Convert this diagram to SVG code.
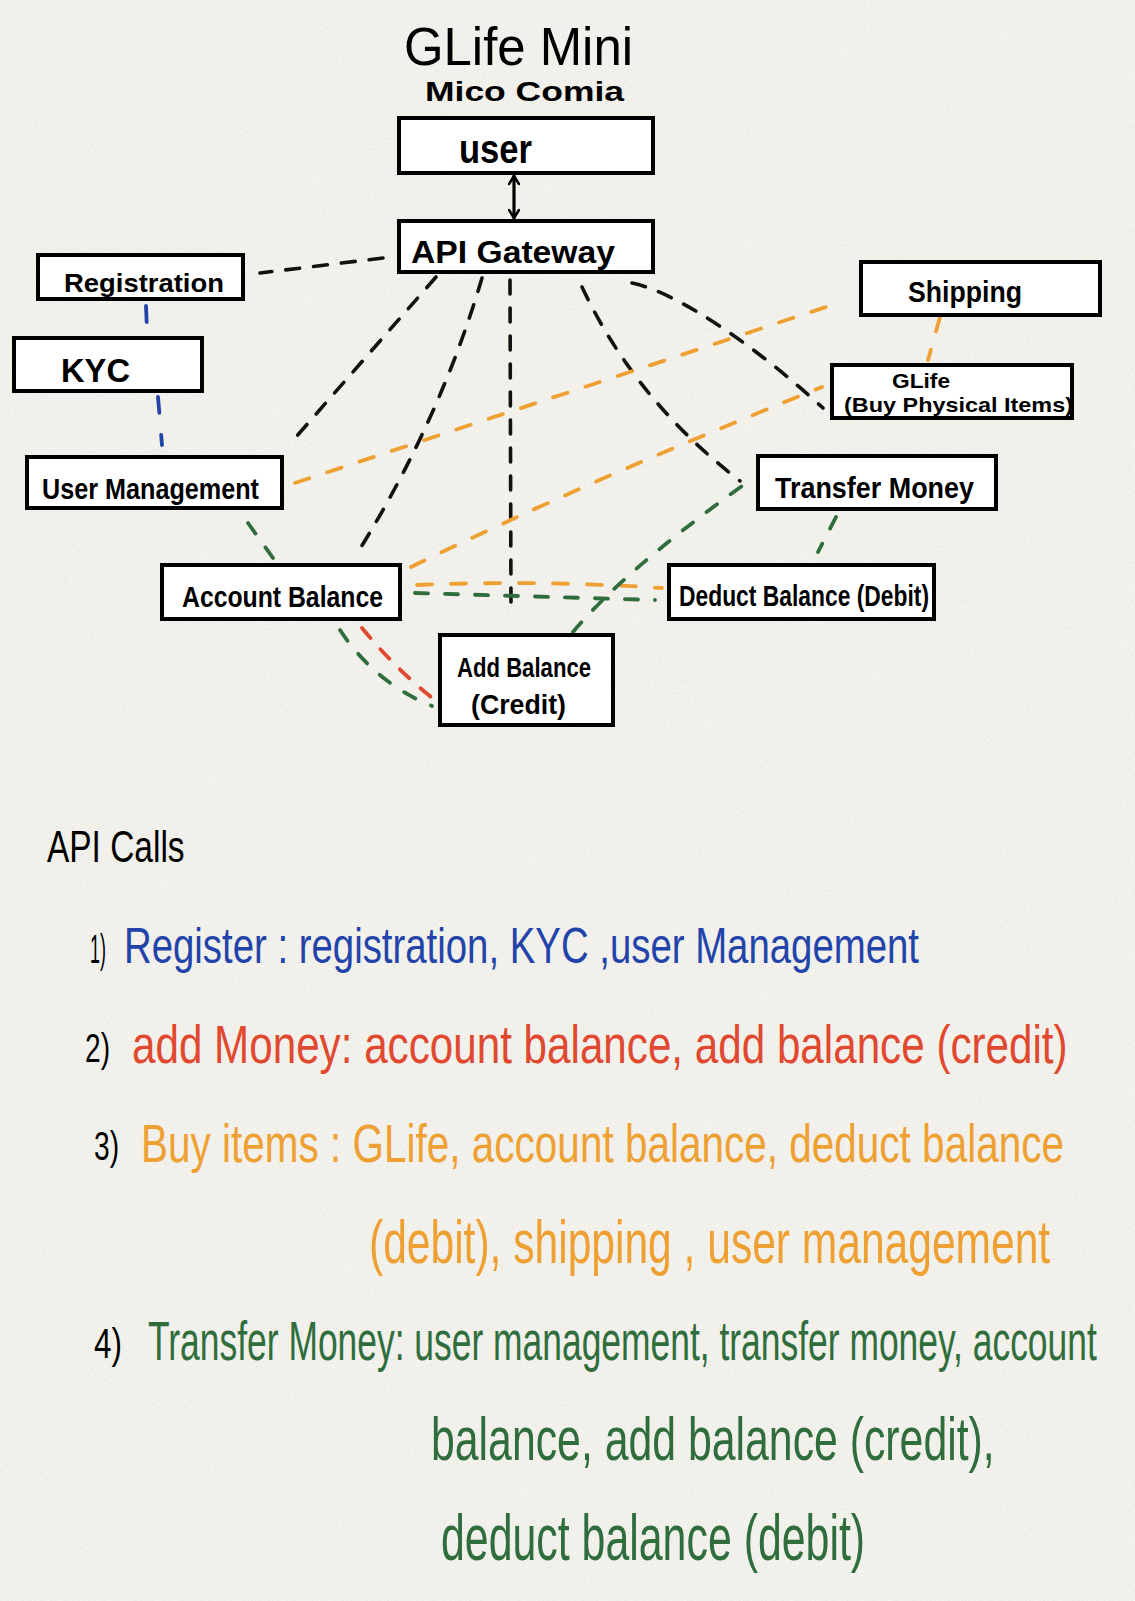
<svg xmlns="http://www.w3.org/2000/svg" width="1135" height="1601" viewBox="0 0 1135 1601">
<defs>
<style>
.box{fill:#fff;stroke:#000;stroke-width:4}
.lbl{font-family:"Liberation Sans","DejaVu Sans",sans-serif;font-weight:bold;fill:#000}
.hand{font-family:"Liberation Sans","DejaVu Sans",sans-serif;font-weight:normal}
.dk{fill:none;stroke:#111;stroke-width:3.6;stroke-linecap:round;stroke-dasharray:14 14}
.or{fill:none;stroke:#EFA032;stroke-width:3.8;stroke-linecap:round;stroke-dasharray:15 19}
.gr{fill:none;stroke:#2F6E3C;stroke-width:3.8;stroke-linecap:round;stroke-dasharray:13 17}
.rd{fill:none;stroke:#E0492F;stroke-width:3.8;stroke-linecap:round;stroke-dasharray:13 15}
.bl{fill:none;stroke:#2244AA;stroke-width:3.8;stroke-linecap:round;stroke-dasharray:16 22}
.blue{fill:#2244AA}.red{fill:#E0492F}.orange{fill:#EFA032}.green{fill:#2F6E3C}.black{fill:#000}
</style>
<marker id="chev" viewBox="0 0 12 12" refX="10" refY="6" markerWidth="12" markerHeight="12" markerUnits="userSpaceOnUse" orient="auto-start-reverse">
<path d="M2,1 L10,6 L2,11" fill="none" stroke="#000" stroke-width="2.6" stroke-linecap="round" stroke-linejoin="round"/>
</marker>
<filter id="paper" x="0" y="0" width="100%" height="100%">
<feTurbulence type="fractalNoise" baseFrequency="0.7" numOctaves="3" seed="4"/>
<feColorMatrix values="0 0 0 0 0.55 0 0 0 0 0.55 0 0 0 0 0.52 0 0 0 0.4 -0.12"/>
</filter>
</defs>
<rect width="1135" height="1601" fill="#F5F4EF"/>
<rect width="1135" height="1601" filter="url(#paper)"/>

<g id="title">
<text class="hand" x="404" y="65" font-size="54" textLength="229" lengthAdjust="spacingAndGlyphs" fill="#000">GLife Mini</text>
<text class="lbl" x="425" y="101" font-size="27" textLength="199" lengthAdjust="spacingAndGlyphs">Mico Comia</text>
</g>

<g id="connectors">
<line x1="514" y1="176" x2="514" y2="218" stroke="#000" stroke-width="3.2" stroke-linecap="round" marker-start="url(#chev)" marker-end="url(#chev)"/>
<path class="dk" d="M383,258 L260,273"/>
<path class="dk" d="M436,277 L289,445"/>
<path class="dk" d="M482,278 Q440,420 358,552"/>
<path class="dk" d="M510,280 L511,608"/>
<path class="dk" d="M582,287 Q635,400 740,481"/>
<path class="dk" d="M632,283 C680,293 760,350 823,408"/>
<path class="bl" d="M146,306 L147,330"/>
<path class="bl" d="M158,397 L162,445"/>
<path class="or" d="M295,483 L832,305"/>
<path class="or" d="M411,567 Q590,480 822,387"/>
<path class="or" d="M940,317 L928,360"/>
<path class="or" d="M417,585 Q540,580 662,588"/>
<path class="gr" d="M415,593 L655,600"/>
<path class="gr" d="M248,523 L273,558"/>
<path class="gr" d="M340,630 Q375,683 432,706"/>
<path class="gr" d="M573,632 Q625,570 742,486"/>
<path class="gr" d="M836,517 L818,552"/>
<path class="rd" d="M362,628 Q395,668 431,697"/>
</g>

<g id="node-user">
<rect class="box" x="399" y="118" width="254" height="55"/>
<text class="lbl" x="459" y="163" font-size="40" textLength="73" lengthAdjust="spacingAndGlyphs">user</text>
</g>
<g id="node-api-gateway">
<rect class="box" x="399" y="221" width="254" height="51"/>
<text class="lbl" x="411" y="263" font-size="31" textLength="204" lengthAdjust="spacingAndGlyphs">API Gateway</text>
</g>
<g id="node-registration">
<rect class="box" x="38" y="255" width="205" height="44"/>
<text class="lbl" x="64" y="292" font-size="26" textLength="160" lengthAdjust="spacingAndGlyphs">Registration</text>
</g>
<g id="node-kyc">
<rect class="box" x="14" y="338" width="188" height="53"/>
<text class="lbl" x="61" y="382" font-size="33" textLength="69" lengthAdjust="spacingAndGlyphs">KYC</text>
</g>
<g id="node-user-management">
<rect class="box" x="27" y="457" width="255" height="51"/>
<text class="lbl" x="42" y="499" font-size="30" textLength="217" lengthAdjust="spacingAndGlyphs">User Management</text>
</g>
<g id="node-shipping">
<rect class="box" x="861" y="262" width="239" height="53"/>
<text class="lbl" x="908" y="302" font-size="29" textLength="114" lengthAdjust="spacingAndGlyphs">Shipping</text>
</g>
<g id="node-glife">
<rect class="box" x="832" y="365" width="240" height="53"/>
<text class="lbl" x="892" y="388" font-size="21" textLength="58" lengthAdjust="spacingAndGlyphs">GLife</text>
<text class="lbl" x="844" y="412" font-size="21" textLength="229" lengthAdjust="spacingAndGlyphs">(Buy Physical Items)</text>
</g>
<g id="node-transfer-money">
<rect class="box" x="758" y="456" width="238" height="53"/>
<text class="lbl" x="775" y="498" font-size="30" textLength="199" lengthAdjust="spacingAndGlyphs">Transfer Money</text>
</g>
<g id="node-account-balance">
<rect class="box" x="162" y="565" width="238" height="54"/>
<text class="lbl" x="182" y="607" font-size="30" textLength="201" lengthAdjust="spacingAndGlyphs">Account Balance</text>
</g>
<g id="node-deduct-balance">
<rect class="box" x="669" y="565" width="265" height="54"/>
<text class="lbl" x="679" y="606" font-size="29" textLength="250" lengthAdjust="spacingAndGlyphs">Deduct Balance (Debit)</text>
</g>
<g id="node-add-balance">
<rect class="box" x="440" y="635" width="173" height="90"/>
<text class="lbl" x="457" y="677" font-size="27" textLength="134" lengthAdjust="spacingAndGlyphs">Add Balance</text>
<text class="lbl" x="471" y="714" font-size="28" textLength="95" lengthAdjust="spacingAndGlyphs">(Credit)</text>
</g>

<g id="api-calls" class="hand">
<text class="black" transform="translate(47,862) scale(0.76,1)" font-size="44" textLength="181" lengthAdjust="spacingAndGlyphs">API Calls</text>
<text class="black" x="90" y="963" font-size="40" textLength="16" lengthAdjust="spacingAndGlyphs">1)</text>
<text class="blue" transform="translate(124,963) scale(0.76,1)" font-size="50" textLength="1046" lengthAdjust="spacingAndGlyphs">Register : registration, KYC ,user Management</text>
<text class="black" x="85" y="1062" font-size="40" textLength="25" lengthAdjust="spacingAndGlyphs">2)</text>
<text class="red" transform="translate(132,1063) scale(0.781,1)" font-size="54" textLength="1198" lengthAdjust="spacingAndGlyphs">add Money: account balance, add balance (credit)</text>
<text class="black" x="94" y="1160" font-size="40" textLength="25" lengthAdjust="spacingAndGlyphs">3)</text>
<text class="orange" transform="translate(141,1162) scale(0.751,1)" font-size="54" textLength="1229" lengthAdjust="spacingAndGlyphs">Buy items : GLife, account balance, deduct balance</text>
<text class="orange" transform="translate(369,1263) scale(0.686,1)" font-size="62" textLength="993" lengthAdjust="spacingAndGlyphs">(debit), shipping , user management</text>
<text class="black" x="94" y="1358" font-size="42" textLength="28" lengthAdjust="spacingAndGlyphs">4)</text>
<text class="green" transform="translate(148,1360) scale(0.63,1)" font-size="56" textLength="1506" lengthAdjust="spacingAndGlyphs">Transfer Money: user management, transfer money, account</text>
<text class="green" transform="translate(431,1460) scale(0.69,1)" font-size="62" textLength="817" lengthAdjust="spacingAndGlyphs">balance, add balance (credit),</text>
<text class="green" transform="translate(441,1560) scale(0.67,1)" font-size="64" textLength="633" lengthAdjust="spacingAndGlyphs">deduct balance (debit)</text>
</g>
</svg>
